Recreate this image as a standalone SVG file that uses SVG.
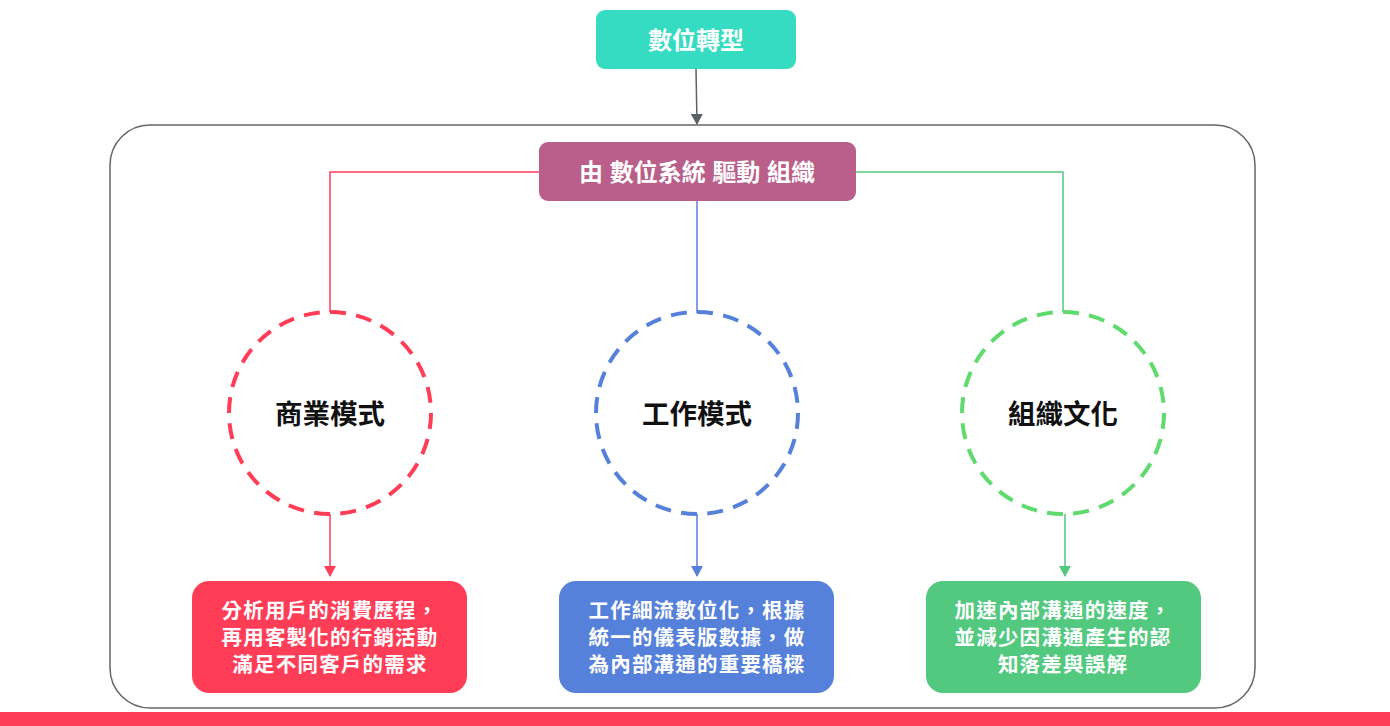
<svg xmlns="http://www.w3.org/2000/svg" width="1390" height="726" viewBox="0 0 1390 726">
<defs>
<style>
.t{font-family:"Liberation Sans","Noto Sans CJK TC",sans-serif;font-weight:bold;text-anchor:middle;dominant-baseline:central}
.w{fill:#ffffff}
.hd{font-size:24px}
.bx{font-size:20.5px;letter-spacing:1.2px}
.cl{font-size:27.5px;fill:#111111}
.dash{fill:none;stroke-width:4;stroke-dasharray:16 10.4}
.ln{fill:none;stroke-width:1.5}
</style>
<marker id="ag" markerWidth="12" markerHeight="12" refX="10" refY="6" orient="auto" markerUnits="userSpaceOnUse"><path d="M0,0 L11,6 L0,12 Z" fill="#5b6366"/></marker>
<marker id="ar" markerWidth="12" markerHeight="12" refX="10" refY="6" orient="auto" markerUnits="userSpaceOnUse"><path d="M0,0 L11,6 L0,12 Z" fill="#ff3d57"/></marker>
<marker id="ab" markerWidth="12" markerHeight="12" refX="10" refY="6" orient="auto" markerUnits="userSpaceOnUse"><path d="M0,0 L11,6 L0,12 Z" fill="#5681da"/></marker>
<marker id="an" markerWidth="12" markerHeight="12" refX="10" refY="6" orient="auto" markerUnits="userSpaceOnUse"><path d="M0,0 L11,6 L0,12 Z" fill="#52c97f"/></marker>
</defs>
<rect width="1390" height="726" fill="#ffffff"/>
<g id="container"><rect x="110" y="125" width="1145" height="583" rx="40" fill="none" stroke="#666666" stroke-width="1.5"/></g>
<rect x="0" y="712" width="1390" height="14" fill="#ff3d57"/>
<g id="connectors">
<path class="ln" d="M696,69 L697,124" stroke="#5b6366" stroke-width="2" marker-end="url(#ag)"/>
<path class="ln" d="M539,172 H330 V312" stroke="#ff3d57"/>
<path class="ln" d="M697,201 V313" stroke="#5681da"/>
<path class="ln" d="M856,172 H1063 V312" stroke="#52c97f"/>
<path class="ln" d="M330,514 V576" stroke="#ff3d57" marker-end="url(#ar)"/>
<path class="ln" d="M697,514 V576" stroke="#5681da" marker-end="url(#ab)"/>
<path class="ln" d="M1065,514 V576" stroke="#52c97f" marker-end="url(#an)"/>
</g>
<g id="n-top"><rect x="596" y="10" width="200" height="59" rx="9" fill="#36dcc1"/><text class="t w hd" x="696" y="40">數位轉型</text></g>
<g id="n-drive"><rect x="539" y="142" width="317" height="59" rx="9" fill="#b95f89"/><text class="t w hd" x="697" y="172">由 數位系統 驅動 組織</text></g>
<g id="n-biz"><circle class="dash" cx="330" cy="413" r="101" stroke="#ff3d57"/><text class="t cl" x="330" y="414">商業模式</text></g>
<g id="n-work"><circle class="dash" cx="697" cy="413" r="101" stroke="#5681da"/><text class="t cl" x="697" y="414">工作模式</text></g>
<g id="n-culture"><circle class="dash" cx="1063" cy="413" r="101" stroke="#5edb6c"/><text class="t cl" x="1063" y="414">組織文化</text></g>
<g id="b-biz"><rect x="192" y="581" width="275" height="112" rx="17" fill="#ff3d57"/>
<text class="t w bx" x="330" y="610">分析用戶的消費歷程，</text>
<text class="t w bx" x="330" y="637">再用客製化的行銷活動</text>
<text class="t w bx" x="330" y="664">滿足不同客戶的需求</text></g>
<g id="b-work"><rect x="559" y="581" width="275" height="112" rx="17" fill="#5681da"/>
<text class="t w bx" x="697" y="610">工作細流數位化，根據</text>
<text class="t w bx" x="697" y="637">統一的儀表版數據，做</text>
<text class="t w bx" x="697" y="664">為內部溝通的重要橋樑</text></g>
<g id="b-culture"><rect x="926" y="581" width="275" height="112" rx="17" fill="#52c97f"/>
<text class="t w bx" x="1063" y="610">加速內部溝通的速度，</text>
<text class="t w bx" x="1063" y="637">並減少因溝通產生的認</text>
<text class="t w bx" x="1063" y="664">知落差與誤解</text></g>
</svg>
